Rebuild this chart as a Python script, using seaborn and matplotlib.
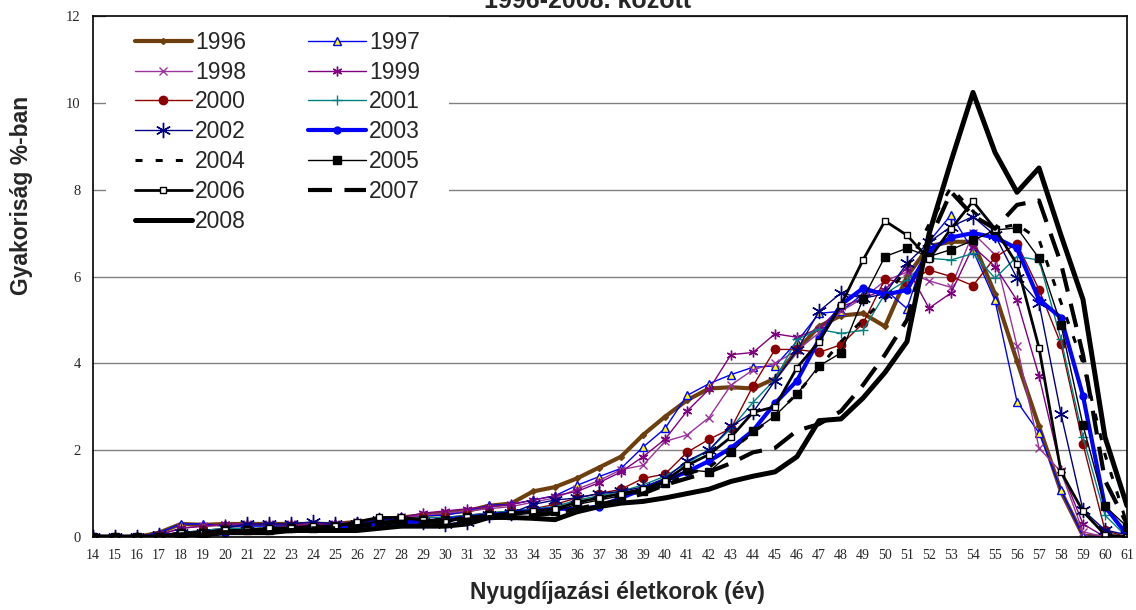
import matplotlib
matplotlib.use("Agg")
import matplotlib.pyplot as plt
import seaborn as sns

# ── DATA ───────────────────────────────────────────────
ages = list(range(14, 62))
years = ['1996', '1997', '1998', '1999', '2000', '2001', '2002',
         '2003', '2004', '2005', '2006', '2007', '2008']

y1996 = [0, 0, 0, 0.1, 0.3, 0.28, 0.3, 0.3, 0.3, 0.3, 0.3, 0.3,
         0.35, 0.4, 0.45, 0.5, 0.55, 0.6, 0.72, 0.77,
         1.05, 1.15, 1.35, 1.6, 1.85, 2.35, 2.77, 3.15, 3.42, 3.45, 3.42, 3.65,
         4.3, 4.85, 5.1, 5.15, 4.85, 6.0, 6.7, 6.8, 6.8, 5.6,
         4.05, 2.55, 1.05, 0.03, 0, 0]
y1997 = [0, 0, 0, 0.1, 0.3, 0.3, 0.25, 0.25, 0.25, 0.25, 0.25, 0.3,
         0.35, 0.35, 0.45, 0.5, 0.5, 0.6, 0.73, 0.75,
         0.85, 0.95, 1.19, 1.39, 1.58, 2.07, 2.5, 3.26, 3.53, 3.74, 3.91, 3.94,
         4.5, 5.15, 5.2, 5.6, 5.7, 5.26, 6.8, 7.42, 6.6, 5.45,
         3.12, 2.4, 1.08, 0.02, 0, 0]
y1998 = [0, 0, 0, 0.05, 0.2, 0.25, 0.28, 0.3, 0.3, 0.3, 0.3, 0.3,
         0.35, 0.4, 0.45, 0.5, 0.55, 0.6, 0.65, 0.7,
         0.8, 0.9, 1.1, 1.3, 1.55, 1.65, 2.2, 2.35, 2.75, 3.5, 3.85, 4.0,
         4.3, 4.7, 5.2, 5.5, 5.9, 6.1, 5.9, 5.75, 7.0, 6.5,
         4.4, 2.05, 1.5, 0.12, 0, 0]
y1999 = [0, 0, 0, 0.05, 0.2, 0.25, 0.3, 0.3, 0.3, 0.3, 0.3, 0.3,
         0.35, 0.4, 0.45, 0.55, 0.6, 0.65, 0.7, 0.75,
         0.85, 0.95, 1.05, 1.25, 1.5, 1.85, 2.25, 2.9, 3.4, 4.2, 4.25, 4.68,
         4.6, 4.8, 5.3, 5.5, 5.7, 6.2, 5.27, 5.62, 6.69, 6.23,
         5.45, 3.71, 1.55, 0.3, 0, 0]
y2000 = [0, 0, 0, 0.05, 0.1, 0.15, 0.2, 0.2, 0.2, 0.25, 0.25, 0.25,
         0.3, 0.35, 0.4, 0.45, 0.45, 0.5, 0.55, 0.6,
         0.65, 0.75, 0.9, 1.0, 1.1, 1.35, 1.45, 1.95, 2.25, 2.5, 3.48, 4.32,
         4.32, 4.25, 4.43, 4.92, 5.94, 5.85, 6.15, 6.0, 5.79, 6.44,
         6.76, 5.7, 4.44, 2.14, 0.15, 0]
y2001 = [0, 0, 0, 0.05, 0.1, 0.15, 0.2, 0.2, 0.2, 0.2, 0.25, 0.25,
         0.3, 0.35, 0.4, 0.45, 0.45, 0.5, 0.55, 0.6,
         0.65, 0.7, 0.85, 0.95, 1.05, 1.2, 1.4, 1.7, 2.0, 2.5, 3.1, 3.63,
         4.55, 4.78, 4.69, 4.76, 5.6, 5.92, 6.42, 6.38, 6.53, 5.96,
         6.46, 6.38, 4.55, 2.3, 0.5, 0]
y2002 = [0, 0, 0, 0.05, 0.1, 0.1, 0.2, 0.3, 0.3, 0.3, 0.35, 0.3,
         0.3, 0.4, 0.4, 0.35, 0.3, 0.35, 0.5, 0.55,
         0.75, 0.85, 0.9, 1.0, 1.05, 1.15, 1.35, 1.75, 2.0, 2.55, 2.87, 3.6,
         4.3, 5.2, 5.62, 5.5, 5.6, 6.3, 6.79, 7.15, 7.38, 6.95,
         5.96, 5.39, 2.83, 0.62, 0.16, 0.05]
y2003 = [0, 0, 0, 0, 0.05, 0.05, 0.1, 0.15, 0.15, 0.2, 0.2, 0.25,
         0.25, 0.3, 0.35, 0.35, 0.4, 0.45, 0.5, 0.55,
         0.6, 0.65, 0.65, 0.7, 0.9, 1.1, 1.3, 1.5, 1.75, 2.05, 2.45, 3.08,
         3.6, 4.55, 5.35, 5.73, 5.58, 5.69, 6.6, 6.9, 7.0, 6.9,
         6.65, 5.47, 5.05, 3.25, 0.7, 0.05]
y2004 = [0, 0, 0, 0, 0.1, 0.1, 0.15, 0.15, 0.2, 0.2, 0.2, 0.25,
         0.3, 0.35, 0.4, 0.4, 0.4, 0.45, 0.5, 0.55,
         0.6, 0.65, 0.75, 0.85, 0.95, 1.05, 1.2, 1.45, 1.6, 2.0, 2.4, 2.8,
         3.3, 3.9, 4.5, 5.0, 5.5, 6.2, 7.2, 8.05, 7.5, 7.1,
         7.2, 6.85, 5.4, 4.0, 1.9, 0.3]
y2005 = [0, 0, 0, 0, 0.1, 0.1, 0.15, 0.15, 0.15, 0.2, 0.2, 0.25,
         0.3, 0.35, 0.4, 0.4, 0.4, 0.45, 0.5, 0.5,
         0.55, 0.6, 0.75, 0.85, 0.95, 1.05, 1.25, 1.55, 1.5, 1.95, 2.43, 2.79,
         3.29, 3.94, 4.24, 5.48, 6.46, 6.65, 6.46, 6.62, 6.83, 7.07,
         7.12, 6.42, 4.89, 2.57, 0.71, 0.24]
y2006 = [0, 0, 0, 0, 0.1, 0.1, 0.15, 0.15, 0.2, 0.2, 0.25, 0.25,
         0.35, 0.45, 0.45, 0.4, 0.35, 0.45, 0.5, 0.55,
         0.6, 0.65, 0.8, 0.9, 1.0, 1.1, 1.3, 1.65, 1.9, 2.3, 2.87, 3.0,
         3.9, 4.5, 5.35, 6.38, 7.28, 6.95, 6.4, 7.1, 7.73, 7.1,
         6.28, 4.36, 1.5, 0.59, 0.05, 0]
y2007 = [0, 0, 0, 0, 0.05, 0.1, 0.1, 0.15, 0.15, 0.15, 0.2, 0.2,
         0.25, 0.3, 0.35, 0.35, 0.35, 0.4, 0.45, 0.5,
         0.5, 0.55, 0.65, 0.75, 0.85, 1.0, 1.2, 1.35, 1.5, 1.7, 1.95, 2.05,
         2.45, 2.6, 2.9, 3.5, 4.2, 5.0, 6.8, 7.95, 7.4, 7.1,
         7.65, 7.75, 6.3, 4.2, 1.3, 0.3]
y2008 = [0, 0, 0, 0, 0.05, 0.05, 0.1, 0.1, 0.1, 0.15, 0.15, 0.15,
         0.15, 0.2, 0.25, 0.25, 0.25, 0.3, 0.45, 0.45,
         0.43, 0.4, 0.58, 0.7, 0.78, 0.82, 0.9, 1.0, 1.1, 1.28, 1.4, 1.5,
         1.85, 2.68, 2.72, 3.2, 3.79, 4.5, 6.98, 8.65, 10.24, 8.86,
         7.94, 8.5, 6.95, 5.47, 2.3, 0.72]

series = [y1996, y1997, y1998, y1999, y2000, y2001, y2002,
          y2003, y2004, y2005, y2006, y2007, y2008]

# line styles, one per year (Excel look)
styles = [
    dict(color='#6E3F0E', lw=3, marker='D', ms=3, mfc='#6E3F0E', mec='#6E3F0E'),
    dict(color='#0000FF', lw=1, marker='^', ms=6, mfc='#FFFF00', mec='#0000FF'),
    dict(color='#993399', lw=1, marker='x', ms=6, mfc='#993399', mec='#993399'),
    dict(color='#800080', lw=1, marker=(6, 2, 0), ms=7, mfc='#800080', mec='#800080'),
    dict(color='#8B0000', lw=1, marker='o', ms=6, mfc='#8B0000', mec='#8B0000'),
    dict(color='#008080', lw=1, marker='+', ms=7, mfc='#008080', mec='#008080'),
    dict(color='#000080', lw=1, marker=(6, 2, 0), ms=11, mfc='#000080', mec='#000080'),
    dict(color='#0000FF', lw=3, marker='o', ms=5, mfc='#0000FF', mec='#0000FF'),
    dict(color='black', lw=2.2, linestyle=(0, (2.3, 4.3))),
    dict(color='black', lw=1, marker='s', ms=6, mfc='black', mec='black'),
    dict(color='black', lw=2, marker='s', ms=5, mfc='white', mec='black'),
    dict(color='black', lw=3, linestyle=(0, (5.75, 3))),
    dict(color='black', lw=3.6),
]

# ── PLOT ───────────────────────────────────────────────
sns.set_theme(style="white")
plt.rcParams['font.family'] = ['Liberation Sans', 'DejaVu Sans']

fig = plt.figure(figsize=(11.36, 6.10), dpi=100)
ax = fig.add_axes([93/1136, 1 - 537/610, (1127 - 93)/1136, (537 - 16)/610])

handles = []
for yr, vals, st in zip(years, series, styles):
    sns.lineplot(x=ages, y=vals, ax=ax, label=yr, errorbar=None, sort=False,
                 markeredgewidth=1, legend=False, **st)
    handles.append(ax.lines[-1])

ax.set_xlim(14, 61)
ax.set_ylim(0, 12)
ax.set_xticks(ages)
ax.set_yticks(range(0, 13, 2))
ax.set_xticklabels([str(a) for a in ages], family='Liberation Serif', fontsize=10)
ax.set_yticklabels([str(v) for v in range(0, 13, 2)], family='Liberation Serif', fontsize=10.5)
ax.tick_params(axis='x', direction='inout', length=7, width=1, color='black', pad=5)
ax.tick_params(axis='y', direction='out', length=5, width=1, color='black', pad=4)
ax.yaxis.grid(True, color='#808080', lw=1)
ax.set_axisbelow(True)
for sp in ax.spines.values():
    sp.set_color('black')
    sp.set_linewidth(1.2)
ax.set_xlabel('')
ax.set_ylabel('')

# legend row-wise like Excel: two columns
order = [0, 2, 4, 6, 8, 10, 12, 1, 3, 5, 7, 9, 11]
leg = ax.legend([handles[i] for i in order], [years[i] for i in order],
                ncol=2, loc='upper left', bbox_to_anchor=(106/1136, 1 - 2/610),
                bbox_transform=fig.transFigure, fontsize=16.5, handlelength=2.5,
                handletextpad=0.15, columnspacing=2.7, labelspacing=0.3,
                borderpad=1.25, frameon=True, fancybox=False, framealpha=1,
                facecolor='white', edgecolor='none', borderaxespad=0)
leg.set_zorder(2.4)

fig.text(588/1136, 1 - 8/610, '1996-2008. között', ha='center', va='baseline',
         fontsize=18, fontweight='bold')
fig.text(22/1136, 1 - 195/610, 'Gyakoriság %-ban', rotation=90, ha='center',
         va='center', fontsize=16.5, fontweight='bold')
fig.text(617/1136, 1 - 592/610, 'Nyugdíjazási életkorok (év)', ha='center',
         va='center', fontsize=16.5, fontweight='bold')

plt.savefig('out.png', dpi=100)
